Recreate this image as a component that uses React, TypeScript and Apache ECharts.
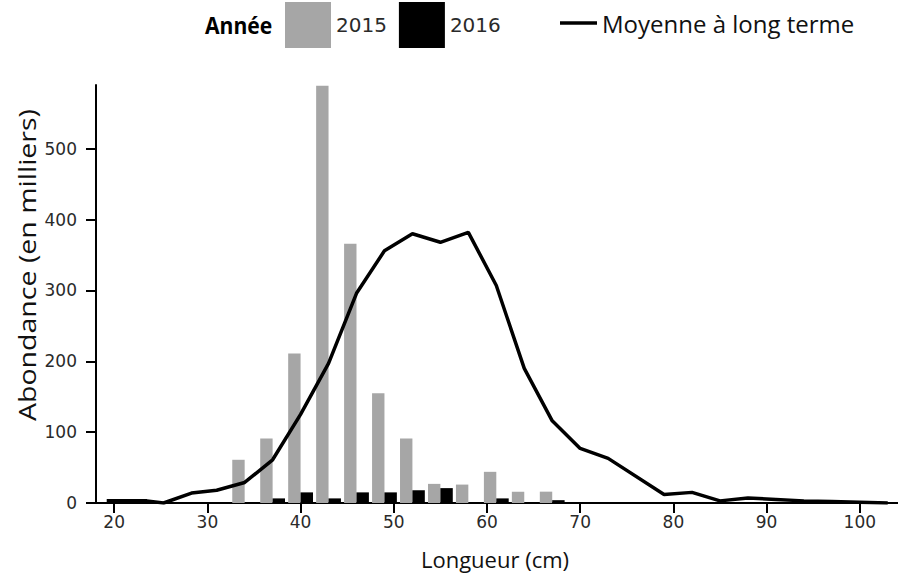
import React, { useEffect, useRef } from "react";
import * as echarts from "echarts";

const bins = [34, 37, 40, 43, 46, 49, 52, 55, 58, 61, 64, 67];
const abund2015 = [61, 91, 211, 589, 366, 155, 91, 27, 26, 44, 16, 16];
const abund2016 = [0, 6.5, 15, 6.5, 15, 15, 18, 21, 0, 6.5, 0, 4];
const meanLengths = [19.2, 23.5, 25.3, 28.3, 31, 34, 37, 40, 43, 46, 49, 52, 55, 58, 61, 64, 67, 70, 73, 79, 82, 85, 88, 91, 94, 97, 100, 103];
const meanValues = [3, 3, 0, 14, 18, 29, 61, 125, 197, 296, 356, 380, 368, 382, 307, 190, 116, 77, 63, 12, 15, 3, 7, 5, 3, 2, 1, 0];
const xTicks = [20, 30, 40, 50, 60, 70, 80, 90, 100];
const yTicks = [0, 100, 200, 300, 400, 500];

export default function App() {
  const ref = useRef<HTMLDivElement>(null);
  useEffect(() => {
    document.body.style.margin = "0";
    const chart = echarts.init(ref.current!, null, { renderer: "svg" });
    const tickFont = { fontFamily: "DejaVu Sans", fontSize: 17, color: "#2a2a2a" };
    chart.setOption({
      animation: false,
      backgroundColor: "#fff",
      grid: { left: 96, top: 85, width: 802, height: 418 },
      legend: [
        {
          data: [
            { name: "2015", icon: "rect" },
            { name: "2016", icon: "rect" },
          ],
          left: 285,
          top: 2,
          padding: 0,
          itemWidth: 46,
          itemHeight: 46,
          itemGap: 12,
          textStyle: { fontFamily: "DejaVu Sans", fontSize: 20, color: "#2a2a2a" },
        },
        {
          data: [{ name: "Moyenne à long terme", icon: "path://M0,0H37V3.5H0Z" }],
          left: 560,
          top: 11,
          padding: 0,
          itemWidth: 37,
          itemHeight: 28,
          symbolKeepAspect: true,
          itemStyle: { color: "#000" },
          textStyle: { fontFamily: "Open Sans", fontSize: 24, color: "#111" },
        },
      ],
      xAxis: {
        type: "value",
        min: 18.05,
        max: 104.1,
        axisLine: { lineStyle: { color: "#000", width: 2 } },
        axisTick: { customValues: xTicks, length: 10, lineStyle: { color: "#000", width: 2 } },
        axisLabel: { customValues: xTicks, margin: 10, ...tickFont },
        splitLine: { show: false },
      },
      yAxis: {
        type: "value",
        min: 0,
        max: 590,
        axisLine: { show: true, lineStyle: { color: "#000", width: 2 } },
        axisTick: { show: true, customValues: yTicks, length: 10, lineStyle: { color: "#000", width: 2 } },
        axisLabel: { customValues: yTicks, margin: 19, ...tickFont },
        splitLine: { show: false },
      },
      graphic: [
        {
          type: "text",
          x: 205,
          y: 25,
          scaleX: 0.92,
          style: {
            text: "Année",
            font: "bold 23px 'Open Sans'",
            fill: "#000",
            textAlign: "left",
            textVerticalAlign: "middle",
          },
        },
        {
          type: "text",
          x: 27,
          y: 265,
          rotation: Math.PI / 2,
          scaleX: 1.24,
          style: {
            text: "Abondance (en milliers)",
            font: "23px 'Open Sans'",
            fill: "#111",
            textAlign: "center",
            textVerticalAlign: "middle",
          },
        },
        {
          type: "text",
          x: 495,
          y: 559,
          style: {
            text: "Longueur (cm)",
            font: "22px 'Open Sans'",
            fill: "#111",
            textAlign: "center",
            textVerticalAlign: "middle",
          },
        },
      ],
      series: [
        {
          name: "2015",
          type: "bar",
          data: bins.map((b, i) => [b, abund2015[i]]),
          barWidth: 12.4,
          barGap: "0%",
          itemStyle: { color: "#a6a6a6" },
        },
        {
          name: "2016",
          type: "bar",
          data: bins.map((b, i) => [b, abund2016[i]]),
          barWidth: 12.4,
          barGap: "0%",
          itemStyle: { color: "#000" },
        },
        {
          name: "Moyenne à long terme",
          type: "line",
          data: meanLengths.map((l, i) => [l, meanValues[i]]),
          symbol: "none",
          z: 5,
          lineStyle: { color: "#000", width: 3.5 },
          itemStyle: { color: "#000" },
        },
      ],
    });
    return () => chart.dispose();
  }, []);
  return (
    <div
      ref={ref}
      style={{ position: "absolute", left: 0, top: 0, width: 898, height: 575 }}
    />
  );
}
